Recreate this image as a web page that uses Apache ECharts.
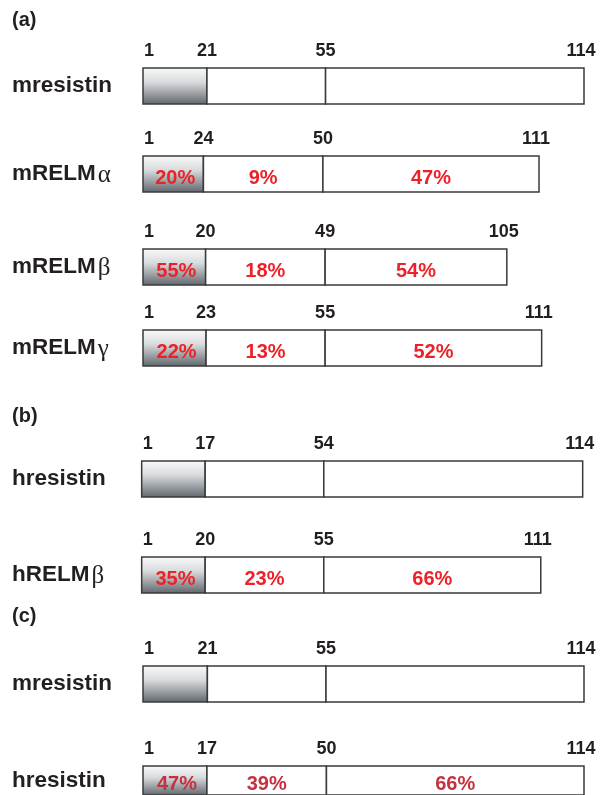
<!DOCTYPE html>
<html>
<head>
<meta charset="utf-8">
<script src="https://cdn.jsdelivr.net/npm/echarts@6.0.0/dist/echarts.min.js"></script>
<style>
  html, body { margin: 0; padding: 0; background: #ffffff; }
  #chart { width: 603px; height: 795px; }
</style>
</head>
<body>
<div id="chart"></div>
<script>
// protein names, top to bottom
const names = ['mresistin', 'mRELMα', 'mRELMβ', 'mRELMγ', 'hresistin', 'hRELMβ', 'mresistin', 'hresistin'];
// residue numbers printed at each segment boundary
const residueBounds = [
  [1, 21, 55, 114],
  [1, 24, 50, 111],
  [1, 20, 49, 105],
  [1, 23, 55, 111],
  [1, 17, 54, 114],
  [1, 20, 55, 111],
  [1, 21, 55, 114],
  [1, 17, 50, 114]
];
// % identity per segment (null = reference protein)
const identity = [
  [null, null, null],
  [20, 9, 47],
  [55, 18, 54],
  [22, 13, 52],
  [null, null, null],
  [35, 23, 66],
  [null, null, null],
  [47, 39, 66]
];
// where the figure places each boundary on its schematic 0-100 scale
const schematicBounds = [
  [0, 14.5, 41.4, 100],
  [0, 13.7, 40.8, 89.8],
  [0, 14.2, 41.3, 82.5],
  [0, 14.3, 41.3, 90.4],
  [-0.3, 14.1, 41.0, 99.7],
  [-0.3, 14.1, 41.0, 90.2],
  [0, 14.6, 41.5, 100],
  [0, 14.5, 41.6, 100]
];
const panels = ['(a)', '(b)', '(c)'];

// layout
const rowTop = [68, 156, 249, 330, 461, 557, 666, 766];
const panelTop = [10, 406, 606];
const boxH = 36;
const inkColor = '#231f20';
const pctColor = ['#ec2229', '#ec2229', '#ec2229', '#ec2229', '#ec2229', '#ec2229', '#ec2229', '#c4323f'];
const sansFont = '"Liberation Sans", Arial, sans-serif';

const chart = echarts.init(document.getElementById('chart'));

const signalFill = new echarts.graphic.LinearGradient(0, 0, 0, 1, [
  { offset: 0, color: '#fafbfb' },
  { offset: 0.4, color: '#d8dbdd' },
  { offset: 1, color: '#5f656b' }
]);

function nameLabel(v) {
  const m = v.match(/^(.*?)([α-ω])$/);
  if (m) return '{b|' + m[1] + '}{g|' + m[2] + '}';
  return '{b|' + v + '}';
}

const grids = [], xAxes = [], yAxes = [], series = [];
names.forEach(function (name, r) {
  grids.push({ left: 143, right: 19, top: rowTop[r], height: boxH });
  xAxes.push({ type: 'value', gridIndex: r, min: 0, max: 100, show: false });
  yAxes.push({
    type: 'category', gridIndex: r, data: [name],
    axisLine: { show: false }, axisTick: { show: false }, splitLine: { show: false },
    axisLabel: {
      margin: 131, align: 'left', formatter: nameLabel,
      rich: {
        b: { fontFamily: sansFont, fontWeight: 'bold', fontSize: 22.5, color: inkColor },
        g: { fontFamily: '"Liberation Serif", "DejaVu Serif", serif', fontSize: 25, color: inkColor, padding: [3, 0, 0, 2] }
      }
    }
  });
  const b = schematicBounds[r];
  const segs = [];
  for (let s = 0; s < 3; s++) segs.push([b[s], b[s + 1], s]);
  series.push({
    type: 'custom',
    xAxisIndex: r,
    yAxisIndex: r,
    clip: false,
    data: segs,
    renderItem: function (params, api) {
      const s = api.value(2);
      const p0 = api.coord([api.value(0), 0]);
      const p1 = api.coord([api.value(1), 0]);
      const h = api.size([0, 1])[1];
      const top = p0[1] - h / 2;
      const children = [{
        type: 'rect',
        shape: { x: p0[0], y: top, width: p1[0] - p0[0], height: h },
        style: { fill: s === 0 ? signalFill : '#ffffff', stroke: '#3a3a3a', lineWidth: 1.5 }
      }];
      const numStyle = { fontFamily: sansFont, fontWeight: 'bold', fontSize: 18, fill: inkColor, verticalAlign: 'middle' };
      children.push({
        type: 'text', x: s === 0 ? p0[0] + 1 : p0[0], y: top - 17,
        style: Object.assign({ text: String(residueBounds[r][s]), align: s === 0 ? 'left' : 'center' }, numStyle)
      });
      if (s === 2) {
        children.push({
          type: 'text', x: p1[0] - 3, y: top - 17,
          style: Object.assign({ text: String(residueBounds[r][3]), align: 'center' }, numStyle)
        });
      }
      const pct = identity[r][s];
      if (pct !== null) {
        children.push({
          type: 'text', x: (p0[0] + p1[0]) / 2 + (s === 0 ? 2 : 0), y: p0[1] + 4,
          style: {
            text: pct + '%', align: 'center', verticalAlign: 'middle',
            fontFamily: sansFont, fontWeight: 'bold', fontSize: 20, fill: pctColor[r]
          }
        });
      }
      return { type: 'group', children: children };
    }
  });
});

chart.setOption({
  backgroundColor: '#ffffff',
  animation: false,
  title: panels.map(function (t, i) {
    return {
      text: t, left: 12, top: panelTop[i], padding: 0,
      textStyle: { fontFamily: sansFont, fontWeight: 'bold', fontSize: 20, color: inkColor }
    };
  }),
  grid: grids,
  xAxis: xAxes,
  yAxis: yAxes,
  series: series
});
</script>
</body>
</html>
